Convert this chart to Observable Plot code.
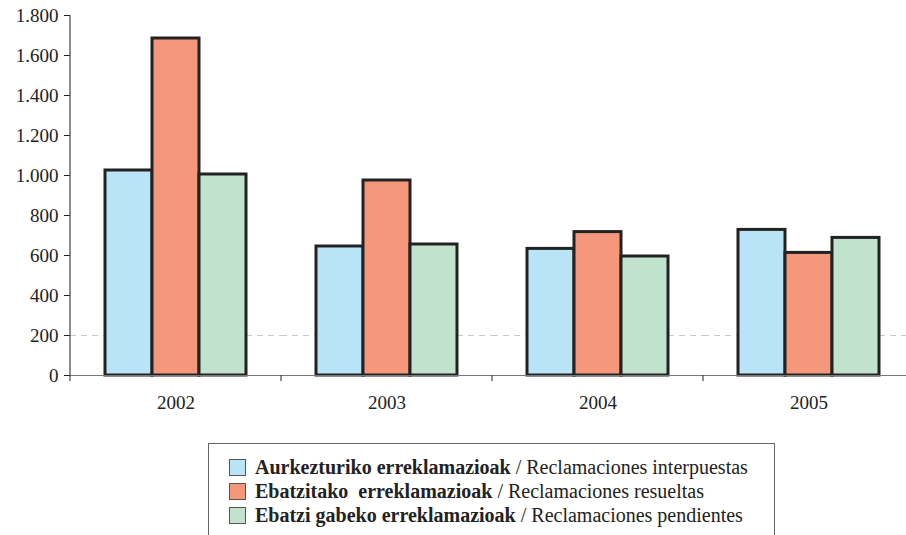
<!DOCTYPE html>
<html>
<head>
<meta charset="utf-8">
<script src="https://cdn.jsdelivr.net/npm/d3@7"></script>
<script src="https://cdn.jsdelivr.net/npm/@observablehq/plot@0.6"></script>
<style>
  html, body { margin: 0; padding: 0; background: #fff; overflow: hidden; }
  #wrap { position: relative; width: 906px; height: 535px; font-family: 'Liberation Serif'; }
  svg text { font-family: 'Liberation Serif' !important; }
  #legend { position: absolute; left: 208px; top: 443px; width: 567px; height: 120px; border: 1px solid #666; box-sizing: border-box; padding-top: 11px; padding-left: 20px; color: #222; font-size: 20px; }
  .row { height: 24px; line-height: 24px; white-space: nowrap; display: flex; align-items: center; }
  .sw { width: 15px; height: 15px; border: 1px solid #555; margin-right: 9px; flex: none; }
  .row b { font-weight: bold; }
</style>
</head>
<body>
<div id="wrap"><div id="chart"></div><div id="legend"></div></div>
<script>
const years = ["2002", "2003", "2004", "2005"];
const series = ["Aurkezturiko erreklamazioak", "Ebatzitako  erreklamazioak", "Ebatzi gabeko erreklamazioak"];
const seriesEs = ["Reclamaciones interpuestas", "Reclamaciones resueltas", "Reclamaciones pendientes"];
const interpuestas = [1025, 645, 633, 728];
const resueltas = [1685, 975, 717, 613];
const pendientes = [1005, 655, 595, 688];
const colors = ["#b9e4f8", "#f4977a", "#c1e2cc"];
const yTicks = [0, 200, 400, 600, 800, 1000, 1200, 1400, 1600, 1800];

const valuesBySeries = [interpuestas, resueltas, pendientes];
const data = [];
years.forEach((yr, i) => series.forEach((s, j) => data.push({year: yr, series: s, value: valuesBySeries[j][i]})));

const fmt = d3.formatLocale({decimal: ",", thousands: ".", grouping: [3], currency: ["", ""]}).format(",d");

const plot = Plot.plot({
  width: 906,
  height: 430,
  marginLeft: 69,
  marginRight: -8,
  marginTop: 15,
  marginBottom: 55,
  style: {fontFamily: "'Liberation Serif'", fontSize: "19px", color: "#222", background: "transparent"},
  fx: {domain: years, padding: 0, label: null, axis: "bottom", tickSize: 0, tickPadding: 20},
  x: {domain: series, axis: null, paddingInner: 0, paddingOuter: 0.74},
  y: {domain: [0, 1800], ticks: yTicks, tickFormat: fmt, label: null, tickSize: 6, tickPadding: 6},
  color: {domain: series, range: colors},
  marks: [
    Plot.ruleY([200], {stroke: "#c8c8c8", strokeDasharray: "6,5", strokeWidth: 1}),
    Plot.barY(data, {fx: "year", x: "series", y: "value", fill: "series", stroke: "#222", strokeWidth: 3}),
    Plot.ruleY([0], {stroke: "#777", strokeWidth: 1.2})
  ]
});
plot.querySelectorAll("text").forEach(t => t.style.fontFamily = "'Liberation Serif'");
document.getElementById("chart").appendChild(plot);

// axis line and category boundary ticks, placed with the plot's own scales
try {
  const ys = plot.scale("y");
  const fxs = plot.scale("fx");
  const svg = d3.select(plot);
  const g = svg.append("g").attr("stroke", "#444").attr("stroke-width", 1.2);
  const x0 = fxs.apply(years[0]);
  g.append("line").attr("x1", x0).attr("x2", x0).attr("y1", ys.apply(1800)).attr("y2", ys.apply(0) + 6);
  const edges = years.slice(1).map(y => fxs.apply(y));
  edges.forEach(e => g.append("line").attr("x1", e).attr("x2", e).attr("y1", ys.apply(0)).attr("y2", ys.apply(0) + 6));
} catch (e) { console.error(e); }

const legend = document.getElementById("legend");
legend.style.fontFamily = "'Liberation Serif'";
series.forEach((s, i) => {
  const row = document.createElement("div");
  row.className = "row";
  const sw = document.createElement("span");
  sw.className = "sw";
  sw.style.background = colors[i];
  row.appendChild(sw);
  const b = document.createElement("b");
  b.textContent = s;
  b.style.whiteSpace = "pre";
  row.appendChild(b);
  row.appendChild(document.createTextNode("\u00a0/ " + seriesEs[i]));
  legend.appendChild(row);
});
</script>
</body>
</html>
